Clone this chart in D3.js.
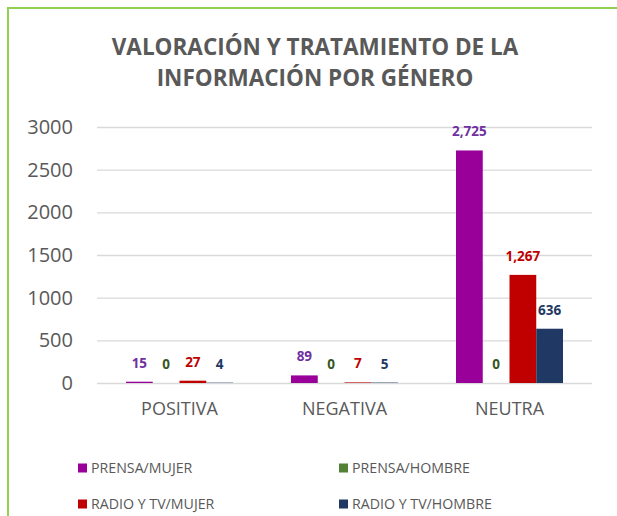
<!DOCTYPE html>
<html>
<head>
<meta charset="utf-8">
<script src="https://cdn.jsdelivr.net/npm/d3@7"></script>
<style>
  body { margin: 0; background: #fff; }
  text { font-family: "Open Sans", "Noto Sans", sans-serif; }
</style>
</head>
<body>
<script>
const categories = ['POSITIVA', 'NEGATIVA', 'NEUTRA'];
const seriesNames = ['PRENSA/MUJER', 'PRENSA/HOMBRE', 'RADIO Y TV/MUJER', 'RADIO Y TV/HOMBRE'];
const prensaMujer = [15, 89, 2725];
const prensaHombre = [0, 0, 0];
const radioMujer = [27, 7, 1267];
const radioHombre = [4, 5, 636];
const yTicks = [0, 500, 1000, 1500, 2000, 2500, 3000];

const barColors = ['#990099', '#548235', '#c00000', '#203864'];
const labelColors = ['#7030a0', '#375623', '#c00000', '#1f3864'];
const textColor = '#595959';

const width = 617, height = 516;
const svg = d3.select('body').append('svg')
    .attr('width', width)
    .attr('height', height);

// chart frame
svg.append('rect')
    .attr('x', 8).attr('y', 8)
    .attr('width', width + 20).attr('height', height + 20)
    .attr('fill', 'none')
    .attr('stroke', '#92d050')
    .attr('stroke-width', 2);

// title
svg.append('text')
    .attr('x', 315).attr('y', 55)
    .attr('text-anchor', 'middle')
    .style('font-size', '22.5px').style('font-weight', 'bold')
    .attr('fill', textColor)
    .selectAll('tspan')
    .data(['VALORACIÓN Y TRATAMIENTO DE LA', 'INFORMACIÓN POR GÉNERO'])
    .enter().append('tspan')
    .attr('x', 315)
    .attr('dy', (d, i) => i ? 31 : 0)
    .text(d => d);

const x0 = d3.scaleBand().domain(categories).range([97, 592]);
const x1 = d3.scaleBand().domain(seriesNames).range([29, x0.bandwidth() - 29]);
const y = d3.scaleLinear().domain([0, 3000]).range([383, 127]);

// gridlines
svg.append('g')
    .selectAll('line')
    .data(yTicks)
    .enter().append('line')
    .attr('x1', 97).attr('x2', 592)
    .attr('y1', d => y(d) + 0.5).attr('y2', d => y(d) + 0.5)
    .attr('stroke', '#d9d9d9')
    .attr('stroke-width', 1.3);

// y axis labels
const yAxis = svg.append('g')
    .attr('transform', 'translate(73,0)')
    .call(d3.axisLeft(y).tickValues(yTicks).tickSize(0).tickPadding(0).tickFormat(d3.format('d')));
yAxis.select('.domain').remove();
yAxis.selectAll('text')
    .attr('fill', textColor)
    .style('font-size', '20px')
    .style('font-family', '"Open Sans", sans-serif');

// x axis labels
const xAxis = svg.append('g')
    .attr('transform', 'translate(0,383)')
    .call(d3.axisBottom(x0).tickSize(0).tickPadding(19));
xAxis.select('.domain').remove();
xAxis.selectAll('text')
    .attr('fill', textColor)
    .style('font-size', '18px')
    .style('font-family', '"Open Sans", sans-serif');

const table = categories.map((c, i) => ({
  category: c,
  values: [prensaMujer[i], prensaHombre[i], radioMujer[i], radioHombre[i]]
      .map((v, j) => ({ series: seriesNames[j], value: v, idx: j }))
}));

const groups = svg.append('g')
    .selectAll('g')
    .data(table)
    .enter().append('g')
    .attr('transform', d => `translate(${x0(d.category)},0)`);

groups.selectAll('rect')
    .data(d => d.values)
    .enter().append('rect')
    .attr('x', d => x1(d.series))
    .attr('width', x1.bandwidth())
    .attr('y', d => y(d.value))
    .attr('height', d => y(0) - y(d.value))
    .attr('fill', d => barColors[d.idx]);

groups.selectAll('text')
    .data(d => d.values)
    .enter().append('text')
    .attr('x', d => x1(d.series) + x1.bandwidth() / 2)
    .attr('y', d => y(d.value) - 14)
    .attr('text-anchor', 'middle')
    .style('font-size', '13.5px').style('font-weight', 'bold')
    .attr('fill', d => labelColors[d.idx])
    .text(d => d3.format(',')(d.value));

// legend
const legendPos = [[78, 468], [339, 468], [78, 504], [339, 504]];
const legend = svg.append('g')
    .selectAll('g')
    .data(seriesNames)
    .enter().append('g')
    .attr('transform', (d, i) => `translate(${legendPos[i][0]},${legendPos[i][1]})`);
legend.append('rect')
    .attr('x', 0).attr('y', -4.5)
    .attr('width', 9).attr('height', 9)
    .attr('fill', (d, i) => barColors[i]);
legend.append('text')
    .attr('x', 13).attr('y', 5)
    .style('font-size', '14.2px')
    .attr('fill', textColor)
    .text(d => d);
</script>
</body>
</html>
